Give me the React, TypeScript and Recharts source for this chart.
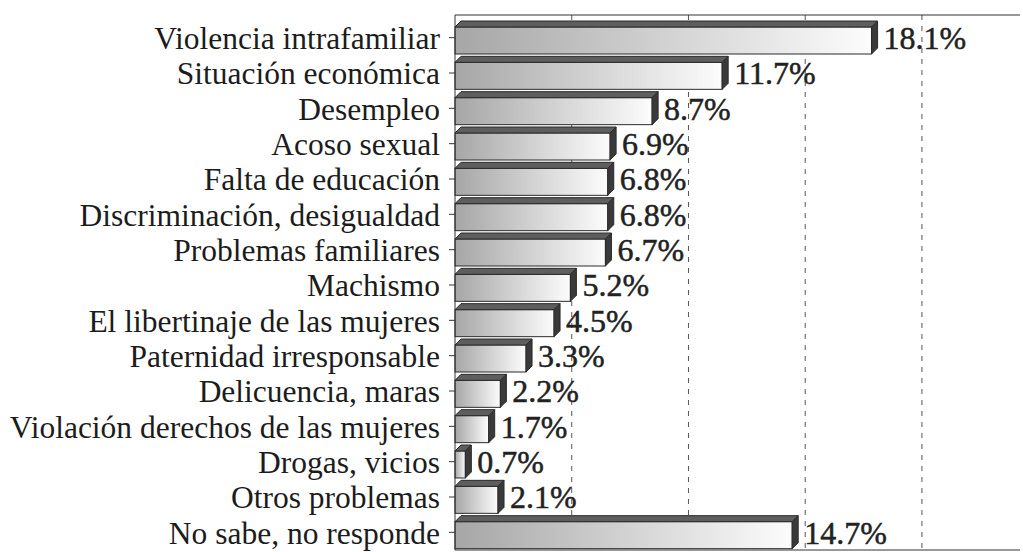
import { Bar, BarChart, CartesianGrid, LabelList, XAxis, YAxis } from 'recharts';

const categories = [
  'Violencia intrafamiliar',
  'Situación económica',
  'Desempleo',
  'Acoso sexual',
  'Falta de educación',
  'Discriminación, desigualdad',
  'Problemas familiares',
  'Machismo',
  'El libertinaje de las mujeres',
  'Paternidad irresponsable',
  'Delicuencia, maras',
  'Violación derechos de las mujeres',
  'Drogas, vicios',
  'Otros problemas',
  'No sabe, no responde'
];

const percentages = [18.1, 11.7, 8.7, 6.9, 6.8, 6.8, 6.7, 5.2, 4.5, 3.3, 2.2, 1.7, 0.7, 2.1, 14.7];

const gridTicks = [5, 10, 15, 20];

const chartData = categories.map((name, i) => ({ name, value: percentages[i] }));

const DEPTH = 6;

// front face + top face + side face, the old spreadsheet 3D look
const Bar3D = (props: any) => {
  const { x, y, width, height } = props;
  if (width == null || width <= 0) return null;
  const d = DEPTH;
  const fw = Math.max(width - d, 1);
  const top = `${x},${y + d} ${x + d},${y} ${x + fw + d},${y} ${x + fw},${y + d}`;
  const side = `${x + fw},${y + d} ${x + fw + d},${y} ${x + fw + d},${y + height - d} ${x + fw},${y + height}`;
  return (
    <g>
      <rect x={x} y={y + d} width={fw} height={height - d} fill="url(#barFront)" stroke="#2a2a2a" strokeWidth={1} />
      <polygon points={top} fill="#5e5e5e" stroke="#2a2a2a" strokeWidth={1} />
      <polygon points={side} fill="#3a3a3a" stroke="#2a2a2a" strokeWidth={1} />
    </g>
  );
};

const NoTick = () => <g />;

const App = () => {
  return (
    <div style={{ position: 'absolute', left: 0, top: 0, background: '#fff' }}>
      <BarChart
        width={1023}
        height={552}
        data={chartData}
        layout="vertical"
        barSize={33}
        margin={{ top: 14, right: 3, bottom: 1, left: 0 }}
      >
        <defs>
          <linearGradient id="barFront" x1="0" y1="0" x2="1" y2="0">
            <stop offset="0%" stopColor="#a6a6a6" />
            <stop offset="55%" stopColor="#d6d6d6" />
            <stop offset="100%" stopColor="#fcfcfc" />
          </linearGradient>
        </defs>
        <CartesianGrid horizontal={false} vertical syncWithTicks strokeDasharray="5 6" stroke="#555" />
        <XAxis
          type="number"
          domain={[0, 24.2]}
          ticks={gridTicks}
          tick={NoTick}
          tickLine={false}
          height={1}
          axisLine={{ stroke: '#333' }}
        />
        <XAxis
          xAxisId="top"
          orientation="top"
          type="number"
          domain={[0, 24.2]}
          ticks={gridTicks}
          tick={NoTick}
          tickLine={false}
          height={1}
          axisLine={{ stroke: '#333' }}
        />
        <YAxis
          type="category"
          dataKey="name"
          width={455}
          padding={{ top: 5, bottom: 0 }}
          axisLine={{ stroke: '#333' }}
          tickLine={{ stroke: '#333' }}
          tickSize={6}
          tickMargin={9}
          interval={0}
          tick={{ fill: '#1c1c1c', fontSize: 31.5, fontFamily: '"Liberation Serif", serif' }}
        />
        <Bar dataKey="value" shape={Bar3D} isAnimationActive={false}>
          <LabelList
            dataKey="value"
            position="right"
            offset={6}
            formatter={(v: any) => `${v}%`}
            fill="#222"
            stroke="#222"
            strokeWidth={0.5}
            fontSize={32}
            fontFamily='"Liberation Serif", serif'
          />
        </Bar>
      </BarChart>
    </div>
  );
};

export default App;
